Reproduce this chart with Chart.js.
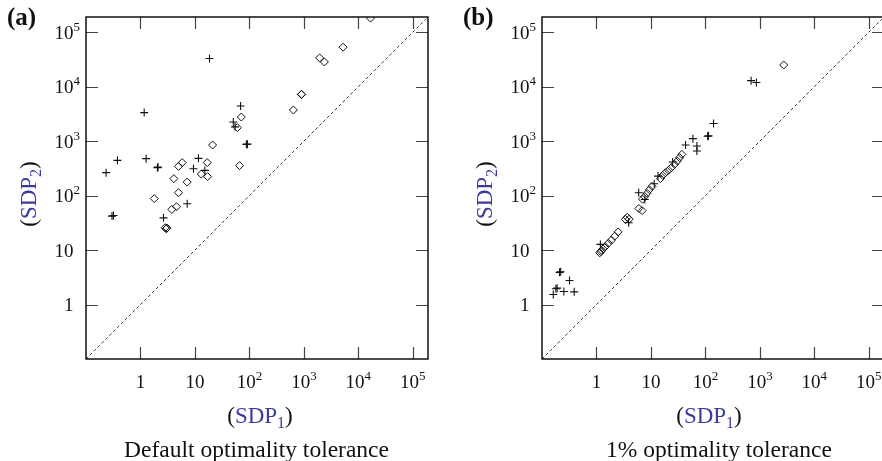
<!DOCTYPE html>
<html>
<head>
<meta charset="utf-8">
<script src="https://cdn.jsdelivr.net/npm/chart.js@4.4.1/dist/chart.umd.min.js"></script>
<style>
  html, body { margin: 0; padding: 0; background: #fff; overflow: hidden; }
  #wrap { position: relative; width: 882px; height: 461px; overflow: hidden; }
  canvas { position: absolute; top: 0; }
</style>
</head>
<body>
<div id="wrap">
  <canvas id="chartA" width="441" height="461" style="left:0"></canvas>
  <canvas id="chartB" width="450" height="461" style="left:441px"></canvas>
</div>
<script>
// ================= DATA =================
// axis limits (log scale) and tick labels
const axisMin = 0.1;
const axisMax = 190000;
const tickValues = [1, 10, 100, 1000, 10000, 100000];
const tickBases = ["1", "10", "10", "10", "10", "10"];
const tickExps = ["", "", "2", "3", "4", "5"];

// (a) default optimality tolerance
const aPlusX = [18.5, 1.17, 68.9, 50.6, 54.6, 88, 92, 0.378, 0.234, 1.27, 2.05, 2.1, 11.6, 9.4, 15.2, 7.2, 0.30, 0.32, 2.65];
const aPlusY = [32900, 3340, 4420, 2245, 1830, 873, 880, 444, 264, 477, 326, 334, 483, 312, 290, 71, 42, 43, 39];
const aDiamX = [16700, 5240, 1950, 2380, 900, 905, 641, 71, 60, 21.1, 66, 5.84, 5.0, 16.8, 13.1, 17.1, 4.1, 7.2, 5.0, 1.79, 4.6, 3.76, 2.84, 2.97, 3.07];
const aDiamY = [181000, 53000, 33700, 28400, 7160, 7250, 3730, 2770, 1770, 848, 355, 403, 344, 403, 248, 223, 205, 177, 113, 88, 62.5, 55.7, 25.7, 24.6, 25.3];

// (b) 1% optimality tolerance
const bPlusX = [0.21, 0.22, 0.32, 0.18, 0.19, 0.252, 0.39, 0.161, 1.18, 3.9, 5.96, 7.7, 11.5, 13.5, 25, 43.2, 59, 69.8, 69.8, 110, 114, 141, 690, 863];
const bPlusY = [3.9, 4.0, 2.76, 1.95, 2.0, 1.73, 1.71, 1.53, 12.7, 31.8, 113, 85, 165, 228, 413, 848, 1110, 813, 657, 1230, 1250, 2100, 12900, 11900];
const bDiamX = [1.15, 1.2, 1.25, 1.32, 1.45, 1.65, 1.88, 2.16, 2.5, 3.4, 3.65, 4.0, 6.0, 6.9, 7.0, 7.7, 8.5, 9.35, 10.5, 14.9, 16.4, 18.4, 21.1, 23.7, 27.2, 30.5, 33.6, 37, 2740];
const bDiamY = [8.9, 9.4, 9.9, 10.5, 11.5, 13.3, 15.2, 18, 21.5, 36.5, 40, 37, 58, 53, 86, 96, 110, 128, 148, 205, 235, 262, 292, 326, 375, 431, 497, 572, 25000];

// ================= HELPERS =================
const SERIF = '"Liberation Serif", "Times New Roman", serif';
const BLUE = "#3b3b9e";

const toPoints = (xs, ys) => xs.map((x, i) => ({ x: x, y: ys[i] }));

// superscript-style tick label: base + small raised exponent
function drawPower(ctx, base, exp, x, y, align) {
    ctx.font = "19px " + SERIF;
    const wb = ctx.measureText(base).width;
    ctx.font = "13px " + SERIF;
    const we = exp ? ctx.measureText(exp).width : 0;
    let start = align === "center" ? x - (wb + we) / 2 : x - wb;
    ctx.textAlign = "left";
    ctx.textBaseline = "alphabetic";
    ctx.font = "19px " + SERIF;
    ctx.fillText(base, start, y);
    if (exp) {
        ctx.font = "13px " + SERIF;
        ctx.fillText(exp, start + wb, y - 8);
    }
}

// "(SDP_n)" title: parens black, SDP blue
function drawSdp(ctx, sub, cx, cy) {
    const big = "23px " + SERIF, small = "16px " + SERIF;
    const parts = [["(", big, "#111", 0], ["SDP", big, BLUE, 0], [sub, small, BLUE, 5], [")", big, "#111", 0]];
    let total = 0;
    parts.forEach(p => { ctx.font = p[1]; total += ctx.measureText(p[0]).width; });
    let px = cx - total / 2;
    ctx.textAlign = "left";
    ctx.textBaseline = "alphabetic";
    parts.forEach(p => {
        ctx.font = p[1];
        ctx.fillStyle = p[2];
        ctx.fillText(p[0], px, cy + p[3]);
        px += ctx.measureText(p[0]).width;
    });
}

// frame, inward ticks, labels and captions
const framePlugin = {
    id: "frame",
    afterDraw(chart, args, opts) {
        const { ctx, chartArea: a } = chart;
        const xs = chart.scales.x, ys = chart.scales.y;
        ctx.save();

        // inward ticks on all four sides
        ctx.strokeStyle = "#444";
        ctx.lineWidth = 1.2;
        tickValues.forEach(v => {
            const px = Math.round(xs.getPixelForValue(v)) + 0.5;
            const py = Math.round(ys.getPixelForValue(v)) + 0.5;
            ctx.beginPath();
            ctx.moveTo(px, a.bottom); ctx.lineTo(px, a.bottom - 12);
            ctx.moveTo(px, a.top); ctx.lineTo(px, a.top + 12);
            ctx.moveTo(a.left, py); ctx.lineTo(a.left + 12, py);
            ctx.moveTo(a.right, py); ctx.lineTo(a.right - 12, py);
            ctx.stroke();
        });

        // frame
        ctx.strokeStyle = "#111";
        ctx.lineWidth = 1.5;
        ctx.strokeRect(a.left, a.top, a.right - a.left, a.bottom - a.top);

        // tick labels
        ctx.fillStyle = "#111";
        tickValues.forEach((v, i) => {
            drawPower(ctx, tickBases[i], tickExps[i], xs.getPixelForValue(v), a.bottom + 29, "center");
            drawPower(ctx, tickBases[i], tickExps[i], a.left - 12.5, ys.getPixelForValue(v) + 6.5, "right");
        });

        // axis titles
        drawSdp(ctx, "1", opts.xTitleX, 423);
        ctx.save();
        ctx.translate(opts.yTitleX, 194);
        ctx.rotate(-Math.PI / 2);
        drawSdp(ctx, "2", 0, 0);
        ctx.restore();

        // caption
        ctx.fillStyle = "#111";
        ctx.font = "23.5px " + SERIF;
        ctx.textAlign = "center";
        ctx.fillText(opts.caption, opts.captionX, 456.5);

        // panel letter
        ctx.font = "bold 25px " + SERIF;
        ctx.textAlign = "left";
        ctx.fillText(opts.letter, opts.letterX, 25);

        ctx.restore();
    }
};

function makeChart(canvasId, plus, diam, padding, frameOpts) {
    const el = document.getElementById(canvasId);
    if (!el) return;
    new Chart(el, {
        type: "scatter",
        data: {
            datasets: [
                {
                    data: toPoints([axisMin, axisMax], [axisMin, axisMax]),
                    showLine: true,
                    borderColor: "#222",
                    borderWidth: 0.9,
                    borderDash: [3, 2.5],
                    pointRadius: 0
                },
                {
                    data: plus,
                    pointStyle: "cross",
                    pointRadius: 4,
                    borderColor: "#111",
                    borderWidth: 1.1
                },
                {
                    data: diam,
                    pointStyle: "rectRot",
                    pointRadius: 4,
                    borderColor: "#111",
                    backgroundColor: "rgba(0,0,0,0)",
                    borderWidth: 1
                }
            ]
        },
        options: {
            responsive: false,
            animation: false,
            devicePixelRatio: 1,
            layout: { padding: padding },
            plugins: {
                legend: { display: false },
                tooltip: { enabled: false },
                frame: frameOpts
            },
            scales: {
                x: { type: "logarithmic", min: axisMin, max: axisMax, display: false },
                y: { type: "logarithmic", min: axisMin, max: axisMax, display: false }
            }
        },
        plugins: [framePlugin]
    });
}

// ================= CHARTS =================
makeChart("chartA", toPoints(aPlusX, aPlusY), toPoints(aDiamX, aDiamY),
    { left: 86, right: 13, top: 17, bottom: 102 },
    { caption: "Default optimality tolerance", captionX: 256.5, xTitleX: 260, yTitleX: 36, letter: "(a)", letterX: 7 });

makeChart("chartB", toPoints(bPlusX, bPlusY), toPoints(bDiamX, bDiamY),
    { left: 101, right: 7, top: 17, bottom: 102 },
    { caption: "1% optimality tolerance", captionX: 278, xTitleX: 268, yTitleX: 50.5, letter: "(b)", letterX: 22 });
</script>
</body>
</html>
